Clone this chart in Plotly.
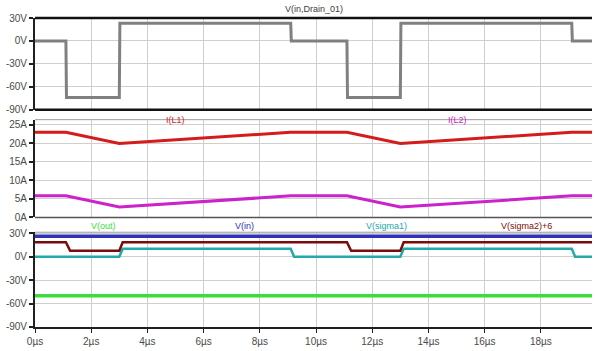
import plotly.graph_objects as go

# ---- waveform data (time in µs) ----
t_drain = [0, 1.1, 1.12, 3.0, 3.02, 9.1, 9.12, 11.1, 11.12, 13.0, 13.02, 19.1, 19.12, 19.82]
v_drain = [0, 0, -74, -74, 23, 23, 0, 0, -74, -74, 23, 23, 0, 0]

t_il = [0, 1.1, 3.0, 9.1, 11.1, 13.0, 19.1, 19.82]
i_l1 = [22.9, 22.9, 19.9, 22.9, 22.9, 19.9, 22.9, 22.9]
i_l2 = [5.8, 5.8, 2.8, 5.8, 5.8, 2.8, 5.8, 5.8]

t_flat = [0, 19.82]
v_out = [-50, -50]
v_in = [26, 26]

t_s1 = [0, 3.0, 3.12, 9.1, 9.22, 13.0, 13.12, 19.1, 19.22, 19.82]
v_sigma1 = [0, 0, 10, 10, 0, 0, 10, 10, 0, 0]

t_s2 = [0, 1.1, 1.25, 3.0, 3.12, 11.1, 11.25, 13.0, 13.12, 19.82]
v_sigma2p6 = [18.5, 18.5, 7.5, 7.5, 18.5, 18.5, 7.5, 7.5, 18.5, 18.5]

x_ticks = [0, 2, 4, 6, 8, 10, 12, 14, 16, 18]
x_labels = ["0µs", "2µs", "4µs", "6µs", "8µs", "10µs", "12µs", "14µs", "16µs", "18µs"]
v_ticks = [30, 0, -30, -60, -90]
v_labels = ["30V", "0V", "-30V", "-60V", "-90V"]
i_ticks = [25, 20, 15, 10, 5, 0]
i_labels = ["25A", "20A", "15A", "10A", "5A", "0A"]

# ---- geometry (pixels) ----
W, H = 596, 351
L, R, T, B = 35, 4, 18, 20
PW, PH = W - L - R, H - T - B


def py(p):
    """pixel row -> paper y"""
    return (H - B - p) / PH


def px(p):
    """pixel column -> paper x"""
    return (p - L) / PW


FONT = "Liberation Sans, Arial, sans-serif"
GRID = "#cfcfcf"
TXT = "#4a4a4a"

fig = go.Figure()

# pane 1
fig.add_trace(go.Scatter(x=t_drain, y=v_drain, mode="lines", xaxis="x", yaxis="y",
                         line=dict(color="#808080", width=3)))
# pane 2
fig.add_trace(go.Scatter(x=t_il, y=i_l1, mode="lines", xaxis="x2", yaxis="y2",
                         line=dict(color="#d41c1c", width=3)))
fig.add_trace(go.Scatter(x=t_il, y=i_l2, mode="lines", xaxis="x2", yaxis="y2",
                         line=dict(color="#cc22cc", width=3)))
# pane 3
fig.add_trace(go.Scatter(x=t_flat, y=v_out, mode="lines", xaxis="x3", yaxis="y3",
                         line=dict(color="#3ddc3d", width=3.5)))
fig.add_trace(go.Scatter(x=t_flat, y=v_in, mode="lines", xaxis="x3", yaxis="y3",
                         line=dict(color="#3030b8", width=3.5)))
fig.add_trace(go.Scatter(x=t_s1, y=v_sigma1, mode="lines", xaxis="x3", yaxis="y3",
                         line=dict(color="#22a9a9", width=2.5)))
fig.add_trace(go.Scatter(x=t_s2, y=v_sigma2p6, mode="lines", xaxis="x3", yaxis="y3",
                         line=dict(color="#7a0c0c", width=2.5)))

xcommon = dict(range=[0, 19.82], tickvals=x_ticks, showgrid=True, gridcolor=GRID,
               gridwidth=1, zeroline=False, showline=False, ticks="")
ycommon = dict(showgrid=True, gridcolor=GRID, gridwidth=1, zeroline=False,
               showline=True, linecolor="#202020", linewidth=2, ticks="outside",
               ticklen=4, tickcolor="#202020", tickwidth=1.5,
               tickfont=dict(family=FONT, size=10, color=TXT))

fig.update_layout(
    width=W, height=H,
    margin=dict(l=L, r=R, t=T, b=B, pad=0),
    paper_bgcolor="white", plot_bgcolor="white",
    showlegend=False,
    xaxis=dict(xcommon, anchor="y", showticklabels=False),
    xaxis2=dict(xcommon, anchor="y2", matches="x", showticklabels=False),
    xaxis3=dict(xcommon, anchor="y3", matches="x", ticktext=x_labels,
                showline=True, linecolor="#202020", linewidth=2,
                ticks="outside", ticklen=4, tickcolor="#202020",
                tickfont=dict(family=FONT, size=10, color=TXT)),
    yaxis=dict(ycommon, domain=[py(111), 1.0], range=[-90, 30],
               tickvals=v_ticks, ticktext=v_labels),
    yaxis2=dict(ycommon, domain=[py(220), py(121)], range=[0, 26.3],
                tickvals=i_ticks, ticktext=i_labels),
    yaxis3=dict(ycommon, domain=[0, py(235)], range=[-90, 31.3],
                tickvals=v_ticks, ticktext=v_labels),
)

# pane borders
for yy, w, c in [(18, 2.5, "#111111"), (111, 2.5, "#111111"),
                 (121, 1, "#9a9a9a"), (220, 1.5, "#555555"), (235, 1, "#9a9a9a")]:
    fig.add_shape(type="line", xref="paper", yref="paper", x0=0, x1=1,
                  y0=py(yy), y1=py(yy), line=dict(color=c, width=w), layer="above")

# trace names
labels = [
    ("V(in,Drain_01)", 314, 9, "#404040"),
    ("I(L1)", 175, 121, "#d41c1c"),
    ("I(L2)", 457, 121, "#cc22cc"),
    ("V(out)", 103, 229, "#3ddc3d"),
    ("V(in)", 244, 229, "#3030b8"),
    ("V(sigma1)", 386, 229, "#22a9a9"),
    ("V(sigma2)+6", 526, 229, "#7a0c0c"),
]
for txt, x, y, col in labels:
    fig.add_annotation(text=txt, xref="paper", yref="paper", x=px(x), y=py(y),
                       showarrow=False, xanchor="center", yanchor="middle",
                       font=dict(family=FONT, size=9, color=col))

fig.write_html("out.html")
